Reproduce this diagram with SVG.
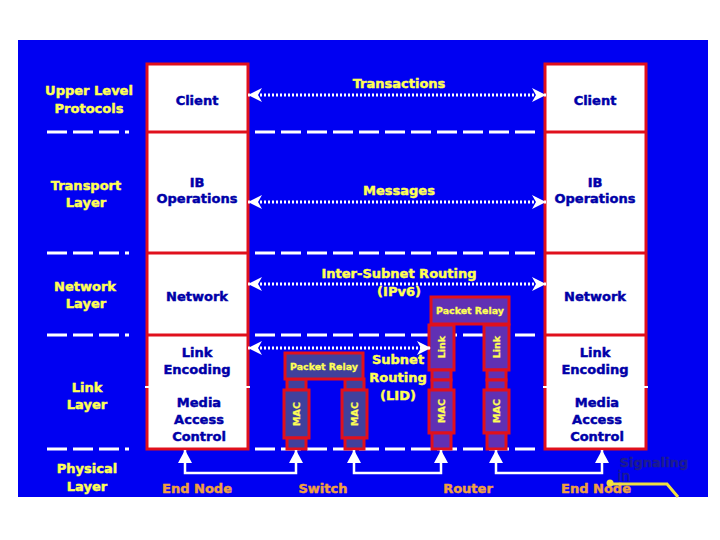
<svg xmlns="http://www.w3.org/2000/svg" width="720" height="540" viewBox="0 0 720 540">
<defs>
<style>
text{font-family:"DejaVu Sans","Liberation Sans",sans-serif;font-weight:bold;font-size:13px;text-anchor:middle;stroke-width:0.45px}
.lay{fill:#ffff55;stroke:#ffff55}
.box{fill:#ffffff;stroke:#e0101c;stroke-width:3}
.bt{fill:#0000a8;stroke:#0000a8}
.ar{fill:#ffff55;stroke:#ffff55}
.bot{fill:#f0a040;stroke:#f0a040}
.dash{stroke:#ffffff;stroke-width:3;stroke-dasharray:20 6;fill:none}
.dot{stroke:#ffffff;stroke-width:3;stroke-dasharray:2 2;fill:none}
.sw{fill:#40409c;stroke:#e0101c;stroke-width:3}
.rt{fill:#6030b4;stroke:#e0101c;stroke-width:3}
.small{font-size:9.5px;fill:#ffff55;stroke:#ffff55;stroke-width:0.3px}
.phys{stroke:#ffffff;stroke-width:2.5;fill:none}
.sig{fill:#1c1c90;stroke:#1c1c90}
</style>
<marker id="chev" viewBox="0 0 16 16" refX="15" refY="8" markerWidth="16" markerHeight="16" markerUnits="userSpaceOnUse" orient="auto-start-reverse">
<path d="M15,8 L1,1 L5,8 L1,15 Z" fill="#ffffff"/>
</marker>
<marker id="up" viewBox="0 0 14 13" refX="7" refY="0" markerWidth="14" markerHeight="13" markerUnits="userSpaceOnUse" orient="0">
<path d="M0,13 L7,0 L14,13 Z" fill="#ffffff"/>
</marker>
</defs>
<rect x="0" y="0" width="720" height="540" fill="#ffffff"/>
<rect x="18" y="40" width="690" height="457" fill="#0000f2"/>

<g id="layer-lines">
<path class="dash" d="M47,132 H129 M47,253 H129 M47,335 H129 M47,449 H129"/>
<path class="dash" d="M255,132 H540 M255,253 H540 M255,335 H540 M255,449 H540"/>
</g>

<g id="layer-labels">
<text class="lay" x="89" y="95">Upper Level</text>
<text class="lay" x="89" y="113">Protocols</text>
<text class="lay" x="86" y="190">Transport</text>
<text class="lay" x="86" y="207">Layer</text>
<text class="lay" x="85" y="291">Network</text>
<text class="lay" x="86" y="308">Layer</text>
<text class="lay" x="87" y="392">Link</text>
<text class="lay" x="87" y="409">Layer</text>
<text class="lay" x="87" y="473">Physical</text>
<text class="lay" x="87" y="491">Layer</text>
</g>

<g id="left-node">
<rect class="box" x="147" y="64" width="101" height="385"/>
<line x1="147" y1="132" x2="248" y2="132" stroke="#e0101c" stroke-width="3"/>
<line x1="147" y1="253" x2="248" y2="253" stroke="#e0101c" stroke-width="3"/>
<line x1="147" y1="335" x2="248" y2="335" stroke="#e0101c" stroke-width="3"/>
<line x1="145" y1="387" x2="250" y2="387" stroke="#ffffff" stroke-width="2"/>
<text class="bt" x="197" y="105">Client</text>
<text class="bt" x="197" y="187">IB</text>
<text class="bt" x="197" y="203">Operations</text>
<text class="bt" x="197" y="301">Network</text>
<text class="bt" x="197" y="357">Link</text>
<text class="bt" x="197" y="374">Encoding</text>
<text class="bt" x="199" y="407">Media</text>
<text class="bt" x="199" y="424">Access</text>
<text class="bt" x="199" y="441">Control</text>
</g>

<g id="right-node">
<rect class="box" x="545" y="64" width="101" height="385"/>
<line x1="545" y1="132" x2="646" y2="132" stroke="#e0101c" stroke-width="3"/>
<line x1="545" y1="253" x2="646" y2="253" stroke="#e0101c" stroke-width="3"/>
<line x1="545" y1="335" x2="646" y2="335" stroke="#e0101c" stroke-width="3"/>
<line x1="543" y1="387" x2="648" y2="387" stroke="#ffffff" stroke-width="2"/>
<text class="bt" x="595" y="105">Client</text>
<text class="bt" x="595" y="187">IB</text>
<text class="bt" x="595" y="203">Operations</text>
<text class="bt" x="595" y="301">Network</text>
<text class="bt" x="595" y="357">Link</text>
<text class="bt" x="595" y="374">Encoding</text>
<text class="bt" x="597" y="407">Media</text>
<text class="bt" x="597" y="424">Access</text>
<text class="bt" x="597" y="441">Control</text>
</g>

<g id="switch">
<rect class="sw" x="287" y="379" width="19" height="11"/>
<rect class="sw" x="284" y="390" width="25" height="48"/>
<rect class="sw" x="287" y="438" width="19" height="11"/>
<rect class="sw" x="345" y="379" width="19" height="11"/>
<rect class="sw" x="342" y="390" width="25" height="48"/>
<rect class="sw" x="345" y="438" width="19" height="11"/>
<rect class="sw" x="285" y="353" width="78" height="26"/>
<text class="small" x="324" y="370" textLength="68" lengthAdjust="spacingAndGlyphs">Packet Relay</text>
<text class="small" transform="translate(300,414) rotate(-90)">MAC</text>
<text class="small" transform="translate(358,414) rotate(-90)">MAC</text>
</g>

<g id="router">
<rect class="rt" x="429" y="325" width="25" height="45"/>
<rect class="rt" x="432" y="370" width="19" height="10"/>
<rect class="rt" x="432" y="380" width="19" height="10"/>
<rect class="rt" x="429" y="390" width="25" height="43"/>
<rect class="rt" x="432" y="433" width="19" height="16"/>
<rect class="rt" x="484" y="325" width="25" height="45"/>
<rect class="rt" x="487" y="370" width="19" height="10"/>
<rect class="rt" x="487" y="380" width="19" height="10"/>
<rect class="rt" x="484" y="390" width="25" height="43"/>
<rect class="rt" x="487" y="433" width="19" height="16"/>
<rect class="rt" x="431" y="297" width="78" height="27"/>
<text class="small" x="470" y="314" textLength="68" lengthAdjust="spacingAndGlyphs">Packet Relay</text>
<text class="small" transform="translate(445,347) rotate(-90)">Link</text>
<text class="small" transform="translate(500,347) rotate(-90)">Link</text>
<text class="small" transform="translate(445,411) rotate(-90)">MAC</text>
<text class="small" transform="translate(500,411) rotate(-90)">MAC</text>
</g>

<g id="connectors">
<line class="dot" x1="248" y1="95" x2="546" y2="95" marker-start="url(#chev)" marker-end="url(#chev)"/>
<line class="dot" x1="248" y1="202" x2="546" y2="202" marker-start="url(#chev)" marker-end="url(#chev)"/>
<line class="dot" x1="248" y1="284" x2="546" y2="284" marker-start="url(#chev)" marker-end="url(#chev)"/>
<line class="dot" x1="248" y1="348" x2="431" y2="348" marker-start="url(#chev)" marker-end="url(#chev)"/>
<path class="phys" d="M185,450 V473 H296 V450" marker-start="url(#up)" marker-end="url(#up)"/>
<path class="phys" d="M354,450 V473 H441 V450" marker-start="url(#up)" marker-end="url(#up)"/>
<path class="phys" d="M496,450 V473 H602 V450" marker-start="url(#up)" marker-end="url(#up)"/>
</g>

<g id="connector-labels">
<text class="ar" x="399" y="88">Transactions</text>
<text class="ar" x="399" y="195">Messages</text>
<text class="ar" x="399" y="278">Inter-Subnet Routing</text>
<text class="ar" x="399" y="296">(IPv6)</text>
<text class="ar" x="398" y="364">Subnet</text>
<text class="ar" x="398" y="382">Routing</text>
<text class="ar" x="398" y="400">(LID)</text>
</g>

<g id="bottom-labels">
<text class="bot" x="197" y="493">End Node</text>
<text class="bot" x="323" y="493">Switch</text>
<text class="bot" x="468" y="493">Router</text>
<text class="bot" x="596" y="493">End Node</text>
</g>

<g id="signaling">
<path d="M610,484 H667 L678,497" fill="none" stroke="#f0e040" stroke-width="3"/>
<circle cx="610" cy="483" r="3.5" fill="#f0e040"/>
<text class="sig" x="654" y="467">Signaling</text>
<text class="sig" x="624" y="481" style="font-size:14px;font-weight:normal">in</text>
</g>
</svg>
